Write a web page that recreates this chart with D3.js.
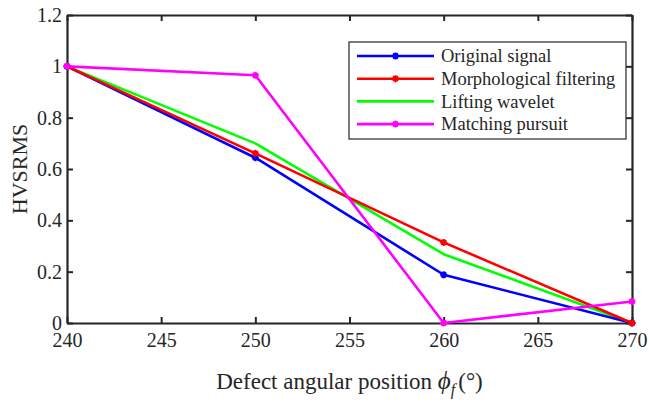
<!DOCTYPE html>
<html>
<head>
<meta charset="utf-8">
<script src="https://cdn.jsdelivr.net/npm/d3@7"></script>
<style>
  body { margin: 0; background: #fff; }
  svg text { font-family: "Times New Roman", "Liberation Serif", serif; fill: #262626; }
</style>
</head>
<body>
<div id="chart"></div>
<script>
// angular positions (deg)
const positions = [240, 250, 260, 270];

// HVSRMS values
const original = [1, 0.644, 0.188, 0];
const morphological = [1, 0.661, 0.314, 0];
const lifting = [1, 0.70, 0.268, 0];
const matching = [1, 0.965, 0, 0.084];

const seriesNames = ["Original signal", "Morphological filtering", "Lifting wavelet", "Matching pursuit"];
const seriesColors = ["#0000ff", "#ff0000", "#00ff00", "#ff00ff"];
const seriesMarkers = [true, true, false, true];

const xTicks = [240, 245, 250, 255, 260, 265, 270];
const yTicks = [0, 0.2, 0.4, 0.6, 0.8, 1, 1.2];
const yTickLabels = ["0", "0.2", "0.4", "0.6", "0.8", "1", "1.2"];

// layout
let W = 649, H = 405;
let margin = { top: 15, right: 17, bottom: 82, left: 67 };
let width = W - margin.left - margin.right;
let height = H - margin.top - margin.bottom;

let svg = d3.select("#chart").append("svg")
    .attr("width", W)
    .attr("height", H);

let g = svg.append("g")
    .attr("transform", `translate(${margin.left}, ${margin.top})`);

let x = d3.scaleLinear().domain([240, 270]).range([0, width]);
let y = d3.scaleLinear().domain([0, 1.2]).range([height, 0]);

const axisColor = "#262626";
const tickLen = 6;

// axes (ticks inward, box on)
let axBottom = g.append("g")
    .attr("transform", `translate(0, ${height})`)
    .call(d3.axisBottom(x).tickValues(xTicks).tickSizeInner(-tickLen).tickSizeOuter(0).tickPadding(9));
let axTop = g.append("g")
    .call(d3.axisTop(x).tickValues(xTicks).tickSizeInner(-tickLen).tickSizeOuter(0).tickFormat(""));
let axLeft = g.append("g")
    .call(d3.axisLeft(y).tickValues(yTicks).tickSizeInner(-tickLen).tickSizeOuter(0).tickPadding(5)
        .tickFormat((d, i) => yTickLabels[i]));
let axRight = g.append("g")
    .attr("transform", `translate(${width}, 0)`)
    .call(d3.axisRight(y).tickValues(yTicks).tickSizeInner(-tickLen).tickSizeOuter(0).tickFormat(""));

[axBottom, axTop, axLeft, axRight].forEach(a => {
    a.attr("font-family", null).attr("font-size", null);
    a.select(".domain").attr("stroke", axisColor).attr("stroke-width", 2.2);
    a.selectAll(".tick line").attr("stroke", axisColor).attr("stroke-width", 2);
    a.selectAll(".tick text")
        .style("font-size", "20px")
        .attr("fill", axisColor);
});
axLeft.selectAll(".tick text").attr("dy", "0.33em");
axBottom.selectAll(".tick text").attr("dy", "0.75em");

// data lines
const allSeries = [original, morphological, lifting, matching];
let line = d3.line()
    .x((d, i) => x(positions[i]))
    .y(d => y(d));

// draw order: lifting under others so blue/red show, matching on top
const drawOrder = [2, 0, 1, 3];
drawOrder.forEach(k => {
    g.append("path")
        .datum(allSeries[k])
        .attr("d", line)
        .attr("fill", "none")
        .attr("stroke", seriesColors[k])
        .attr("stroke-width", 2.6)
        .attr("stroke-linejoin", "round");
});

// asterisk-ish markers
function marker(sel, cx, cy, color) {
    let s = 3.5;
    sel.append("path")
        .attr("d", `M${cx - s},${cy}L${cx + s},${cy}M${cx},${cy - s}L${cx},${cy + s}` +
            `M${cx - s * 0.7},${cy - s * 0.7}L${cx + s * 0.7},${cy + s * 0.7}M${cx - s * 0.7},${cy + s * 0.7}L${cx + s * 0.7},${cy - s * 0.7}`)
        .attr("stroke", color)
        .attr("stroke-width", 2)
        .attr("fill", "none");
}
drawOrder.forEach(k => {
    if (!seriesMarkers[k]) return;
    allSeries[k].forEach((v, i) => marker(g, x(positions[i]), y(v), seriesColors[k]));
});

// legend
let lg = svg.append("g").attr("transform", "translate(349, 42)");
lg.append("rect")
    .attr("width", 277).attr("height", 97)
    .attr("fill", "#fff")
    .attr("stroke", axisColor)
    .attr("stroke-width", 1.2);
seriesNames.forEach((name, k) => {
    let yy = 14 + k * 22.7;
    lg.append("line")
        .attr("x1", 8).attr("x2", 85)
        .attr("y1", yy).attr("y2", yy)
        .attr("stroke", seriesColors[k])
        .attr("stroke-width", 2.6);
    if (seriesMarkers[k]) marker(lg, 46.5, yy, seriesColors[k]);
    lg.append("text")
        .attr("x", 92).attr("y", yy)
        .attr("dy", "0.33em")
        .style("font-size", "18.5px")
        .text(name);
});

// axis titles
let xl = svg.append("text")
    .attr("x", margin.left + width / 2)
    .attr("y", 389)
    .attr("text-anchor", "middle")
    .style("font-size", "23px");
xl.append("tspan").text("Defect angular position ");
xl.append("tspan").style("font-style", "italic").style("font-size", "25px").text("\u03d5");
xl.append("tspan").style("font-style", "italic").style("font-size", "16px").attr("dy", 6).text("f");
xl.append("tspan").attr("dx", 3).attr("dy", -6).text("(\u00b0)");

svg.append("text")
    .attr("transform", `translate(27, ${margin.top + height / 2}) rotate(-90)`)
    .attr("text-anchor", "middle")
    .style("font-size", "22px")
    .text("HVSRMS");
</script>
</body>
</html>
